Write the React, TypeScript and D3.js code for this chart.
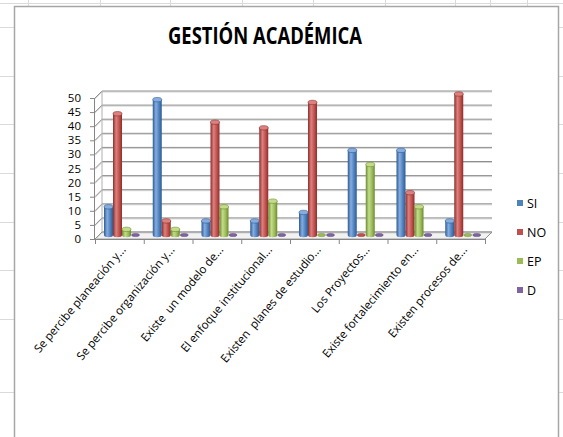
import * as React from "react";
import * as d3 from "d3";

const categories = [
  "Se percibe planeación y...",
  "Se percibe organización y...",
  "Existe  un modelo de...",
  "El enfoque institucional...",
  "Existen  planes de estudio...",
  "Los Proyectos...",
  "Existe fortalecimiento en...",
  "Existen procesos de...",
];
const seriesNames = ["SI", "NO", "EP", "D"];
const siValues = [10, 48, 5, 5, 8, 30, 30, 5];
const noValues = [43, 5, 40, 38, 47, 0, 15, 50];
const epValues = [2, 2, 10, 12, 0, 25, 10, 0];
const dValues = [0, 0, 0, 0, 0, 0, 0, 0];
const yTickValues = [0, 5, 10, 15, 20, 25, 30, 35, 40, 45, 50];

const colors: Record<string, { base: string; dark: string; light: string }> = {
  SI: { base: "#4F81BD", dark: "#2d5b93", light: "#86ade0" },
  NO: { base: "#C0504D", dark: "#8c2e2b", light: "#dc817e" },
  EP: { base: "#9BBB59", dark: "#6b8a2f", light: "#c3dc8a" },
  D: { base: "#8064A2", dark: "#58407a", light: "#ab92ca" },
};

// spreadsheet cell lines behind the chart object
const sheetRows = [3, 27, 76, 124, 173, 222, 270, 319, 392];
const sheetCols = [28, 100, 170, 242, 313, 385, 455, 490, 527];

function drawChart(svgRef: React.RefObject<SVGSVGElement>) {
  const svg = d3.select(svgRef.current);
  svg.selectAll("*").remove();
  const W = 563;
  const H = 437;
  const font = "'Open Sans', 'Liberation Sans', sans-serif";
  const depth = 7;

  const values: Record<string, number[]> = { SI: siValues, NO: noValues, EP: epValues, D: dValues };

  const x = d3.scaleBand<string>().domain(categories).range([95, 485]);
  const inner = d3.scaleBand<string>().domain(seriesNames).range([9, 45]);
  const y = d3.scaleLinear().domain([0, 50]).range([239, 98]);

  const defs = svg.append("defs");
  seriesNames.forEach((s) => {
    const g = defs.append("linearGradient").attr("id", `cyl-${s}`).attr("x1", 0).attr("x2", 1).attr("y1", 0).attr("y2", 0);
    g.append("stop").attr("offset", "0%").attr("stop-color", colors[s].dark);
    g.append("stop").attr("offset", "35%").attr("stop-color", colors[s].light);
    g.append("stop").attr("offset", "70%").attr("stop-color", colors[s].base);
    g.append("stop").attr("offset", "100%").attr("stop-color", colors[s].dark);
  });

  // sheet background
  svg.append("rect").attr("width", W).attr("height", H).attr("fill", "#fff");
  svg.selectAll(".row").data(sheetRows).enter().append("line")
    .attr("x1", 0).attr("x2", W).attr("y1", (d) => d + 0.5).attr("y2", (d) => d + 0.5)
    .attr("stroke", "#dadada");
  svg.selectAll(".col").data(sheetCols).enter().append("line")
    .attr("y1", 0).attr("y2", H).attr("x1", (d) => d + 0.5).attr("x2", (d) => d + 0.5)
    .attr("stroke", "#dadada");

  // chart object
  svg.append("rect")
    .attr("x", 14.5).attr("y", 6.5).attr("width", 544).attr("height", 440)
    .attr("fill", "#fff").attr("stroke", "#a6a6a6").attr("stroke-width", 1.5);

  svg.append("text")
    .attr("x", 265).attr("y", 44)
    .attr("text-anchor", "middle")
    .attr("font-family", font).attr("font-weight", "bold").attr("font-size", 23)
    .attr("textLength", 194).attr("lengthAdjust", "spacingAndGlyphs")
    .text("GESTIÓN ACADÉMICA");

  // floor
  const x0 = 95, x1 = 485;
  svg.append("path")
    .attr("d", `M${x0},${y(0)}L${x1},${y(0)}L${x1 + depth},${y(0) - depth}L${x0 + depth},${y(0) - depth}Z`)
    .attr("fill", "#f2f2f2").attr("stroke", "#a0a0a0").attr("stroke-width", 1);

  // walls gridlines
  const grid = svg.append("g");
  yTickValues.forEach((v) => {
    const yy = y(v);
    const p = `M${x0},${yy}L${x0 + depth},${yy - depth}L${x1 + depth},${yy - depth}`;
    grid.append("path").attr("d", d3.line()([[x0, yy + 1], [x0 + depth, yy - depth + 1], [x1 + depth, yy - depth + 1]]) as string)
      .attr("fill", "none").attr("stroke", "#d4d4d4").attr("stroke-width", 1);
    grid.append("path").attr("d", p).attr("fill", "none").attr("stroke", "#8f8f8f").attr("stroke-width", 1);
  });
  // back wall left edge and side
  grid.append("line").attr("x1", x0 + depth).attr("x2", x0 + depth).attr("y1", y(50) - depth).attr("y2", y(0) - depth)
    .attr("stroke", "#b0b0b0");
  grid.append("line").attr("x1", x1 + depth).attr("x2", x1).attr("y1", y(0) - depth).attr("y2", y(0))
    .attr("stroke", "#8f8f8f");

  // y axis
  const ax = svg.append("g");
  ax.append("line").attr("x1", x0 - 0.5).attr("x2", x0 - 0.5).attr("y1", y(50)).attr("y2", y(0)).attr("stroke", "#868686");
  yTickValues.forEach((v) => {
    ax.append("line").attr("x1", x0 - 5).attr("x2", x0).attr("y1", y(v) + 0.5).attr("y2", y(v) + 0.5).attr("stroke", "#868686");
    ax.append("text").attr("x", 81).attr("y", y(v) + 4).attr("text-anchor", "end")
      .attr("font-family", font).attr("font-size", 11.5).attr("fill", "#000").text(String(v));
  });

  // x axis ticks
  ax.append("line").attr("x1", x0).attr("x2", x1).attr("y1", y(0) + 0.5).attr("y2", y(0) + 0.5).attr("stroke", "#868686");
  d3.range(categories.length + 1).forEach((i) => {
    const tx = x0 + i * x.step();
    ax.append("line").attr("x1", tx + 0.5).attr("x2", tx + 0.5).attr("y1", y(0)).attr("y2", y(0) + 5).attr("stroke", "#868686");
  });

  // cylinders
  const bw = inner.bandwidth();
  const ry = 2.2;
  const base = y(0) - 4;
  const bars = svg.append("g");
  categories.forEach((c, ci) => {
    seriesNames.forEach((s) => {
      const v = values[s][ci];
      const bx = (x(c) as number) + (inner(s) as number);
      const top = y(v) - 4;
      const col = colors[s];
      if (v > 0) {
        bars.append("path")
          .attr("d", `M${bx},${top}L${bx},${base}A${bw / 2},${ry} 0 0 0 ${bx + bw},${base}L${bx + bw},${top}Z`)
          .attr("fill", `url(#cyl-${s})`);
        bars.append("ellipse").attr("cx", bx + bw / 2).attr("cy", top).attr("rx", bw / 2).attr("ry", ry)
          .attr("fill", col.light).attr("stroke", col.dark).attr("stroke-width", 0.6);
      } else {
        bars.append("ellipse").attr("cx", bx + bw / 2).attr("cy", base).attr("rx", bw / 2 - 0.5).attr("ry", 1.6)
          .attr("fill", col.base).attr("stroke", col.dark).attr("stroke-width", 0.5);
      }
    });
  });

  // category labels
  categories.forEach((c) => {
    const cx = (x(c) as number) + x.bandwidth() / 2;
    svg.append("text")
      .attr("transform", `translate(${cx + 7},${y(0) + 11}) rotate(-50)`)
      .attr("text-anchor", "end")
      .attr("font-family", font).attr("font-size", 11.5).attr("fill", "#000")
      .style("white-space", "pre")
      .text(c);
  });

  // legend
  const lg = svg.append("g");
  seriesNames.forEach((s, i) => {
    const ly = 203 + i * 29;
    lg.append("rect").attr("x", 517).attr("y", ly - 3).attr("width", 6).attr("height", 6).attr("fill", colors[s].base);
    lg.append("text").attr("x", 527).attr("y", ly + 5)
      .attr("font-family", font).attr("font-size", 12.5).attr("fill", "#000").text(s);
  });
}

const App: React.FunctionComponent = () => {
  const svg = React.useRef<SVGSVGElement>(null);
  React.useEffect(() => {
    drawChart(svg);
  }, [svg]);

  return (
    <div style={{ position: "absolute", left: 0, top: 0 }}>
      <svg ref={svg} width={563} height={437} style={{ display: "block" }} />
    </div>
  );
};

export default App;
